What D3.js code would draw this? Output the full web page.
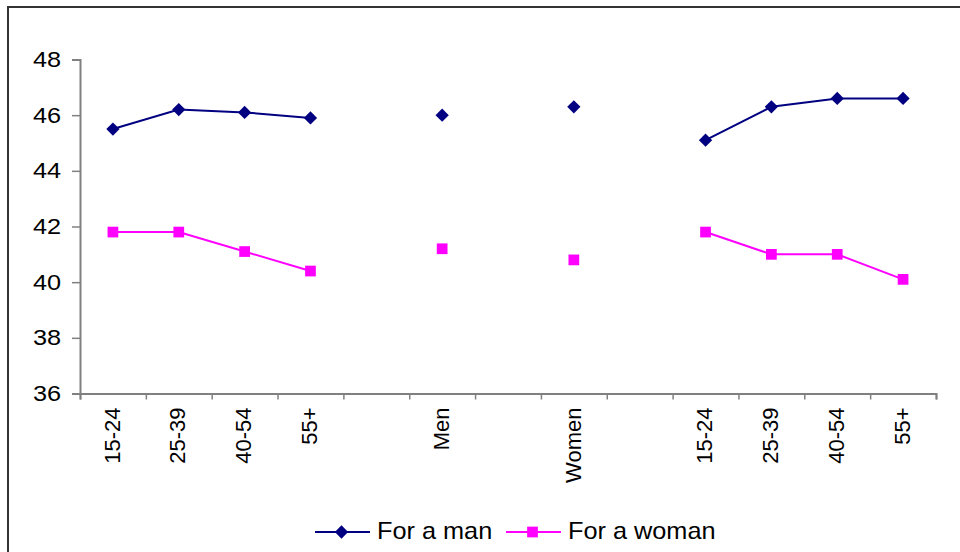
<!DOCTYPE html>
<html>
<head>
<meta charset="utf-8">
<script src="https://cdn.jsdelivr.net/npm/d3@7"></script>
<style>
  html, body { margin: 0; padding: 0; background: #fff; }
  svg { display: block; font-family: "Liberation Sans", Arial, sans-serif; }
</style>
</head>
<body>
<svg id="chart" width="960" height="552"></svg>
<script>
// Age groups, sex, then age groups again; empty slots separate the blocks
const categories = ["15-24", "25-39", "40-54", "55+", "", "Men", "", "Women", "", "15-24", "25-39", "40-54", "55+"];
const forMan   = [45.5, 46.2, 46.1, 45.9, null, 46.0, null, 46.3, null, 45.1, 46.3, 46.6, 46.6];
const forWoman = [41.8, 41.8, 41.1, 40.4, null, 41.2, null, 40.8, null, 41.8, 41.0, 41.0, 40.1];
const yTicks = [36, 38, 40, 42, 44, 46, 48];
const seriesNames = ["For a man", "For a woman"];

const svg = d3.select("#chart");
const plotLeft = 80, plotRight = 936, plotTop = 59.5, plotBottom = 393.5;

// outer chart frame (runs off the right and bottom edges)
svg.append("rect")
  .attr("x", 8).attr("y", 7).attr("width", 970).attr("height", 570)
  .attr("fill", "none").attr("stroke", "#333").attr("stroke-width", 2);

const idx = d3.range(categories.length);
const x = d3.scaleBand().domain(idx).range([plotLeft, plotRight]);
const xEdge = d3.scaleLinear().domain([0, categories.length]).range([plotLeft, plotRight]);
const y = d3.scaleLinear().domain([36, 48]).range([plotBottom, plotTop]);

// y axis
const yAxis = svg.append("g")
  .attr("transform", `translate(${plotLeft},0)`)
  .call(d3.axisLeft(y).tickValues(yTicks).tickSize(8).tickPadding(11).tickFormat(d3.format("d")));
yAxis.select(".domain").attr("stroke", "#808080").attr("stroke-width", 2);
yAxis.selectAll(".tick line").attr("stroke", "#808080").attr("stroke-width", 1.5);
yAxis.selectAll(".tick text")
  .attr("font-size", 22).attr("fill", "#000")
  .attr("transform", function() {
    const tx = +d3.select(this).attr("x");
    return `translate(${tx},0) scale(1.15,1) translate(${-tx},0)`;
  });

// x axis: tick marks at the category boundaries
const xAxis = svg.append("g")
  .attr("transform", `translate(0,${plotBottom})`)
  .call(d3.axisBottom(xEdge).tickValues(d3.range(categories.length + 1)).tickSize(6).tickFormat(""));
xAxis.select(".domain").attr("stroke", "#808080").attr("stroke-width", 2);
xAxis.selectAll(".tick line").attr("stroke", "#808080").attr("stroke-width", 1.5);

// rotated category labels
svg.append("g").selectAll("text")
  .data(idx)
  .join("text")
  .attr("transform", i => `translate(${x(i) + x.bandwidth() / 2 - 1},${plotBottom + 14}) rotate(-90)`)
  .attr("text-anchor", "end")
  .attr("dy", "0.35em")
  .attr("font-size", 22)
  .attr("fill", "#000")
  .text(i => categories[i]);

const line = d3.line()
  .defined(d => d.v != null)
  .x(d => x(d.i) + x.bandwidth() / 2)
  .y(d => y(d.v));

// diamond marker = square turned 45 degrees
const diamond = d3.symbol().type(d3.symbolSquare).size(88);
const square = d3.symbol().type(d3.symbolSquare).size(115);

function drawSeries(values, color, sym, rot) {
  const pts = values.map((v, i) => ({ i, v }));
  svg.append("path")
    .datum(pts)
    .attr("fill", "none")
    .attr("stroke", color)
    .attr("stroke-width", 2)
    .attr("d", line);
  svg.append("g").selectAll("path")
    .data(pts.filter(d => d.v != null))
    .join("path")
    .attr("transform", d => `translate(${x(d.i) + x.bandwidth() / 2},${y(d.v)}) rotate(${rot})`)
    .attr("fill", color)
    .attr("d", sym);
}

drawSeries(forMan, "#000080", diamond, 45);
drawSeries(forWoman, "#FF00FF", square, 0);

// legend
const legend = [
  { name: seriesNames[0], color: "#000080", sym: diamond, rot: 45, x0: 315 },
  { name: seriesNames[1], color: "#FF00FF", sym: square, rot: 0, x0: 506 }
];
const lg = svg.append("g");
legend.forEach(l => {
  lg.append("line")
    .attr("x1", l.x0).attr("x2", l.x0 + 55)
    .attr("y1", 532).attr("y2", 532)
    .attr("stroke", l.color).attr("stroke-width", 2);
  lg.append("path")
    .attr("transform", `translate(${l.x0 + 26.5},532) rotate(${l.rot})`)
    .attr("fill", l.color)
    .attr("d", l.sym);
  lg.append("text")
    .attr("transform", `translate(${l.x0 + 62},538.5) scale(1.1,1)`)
    .attr("font-size", 23)
    .attr("fill", "#000")
    .text(l.name);
});
</script>
</body>
</html>
